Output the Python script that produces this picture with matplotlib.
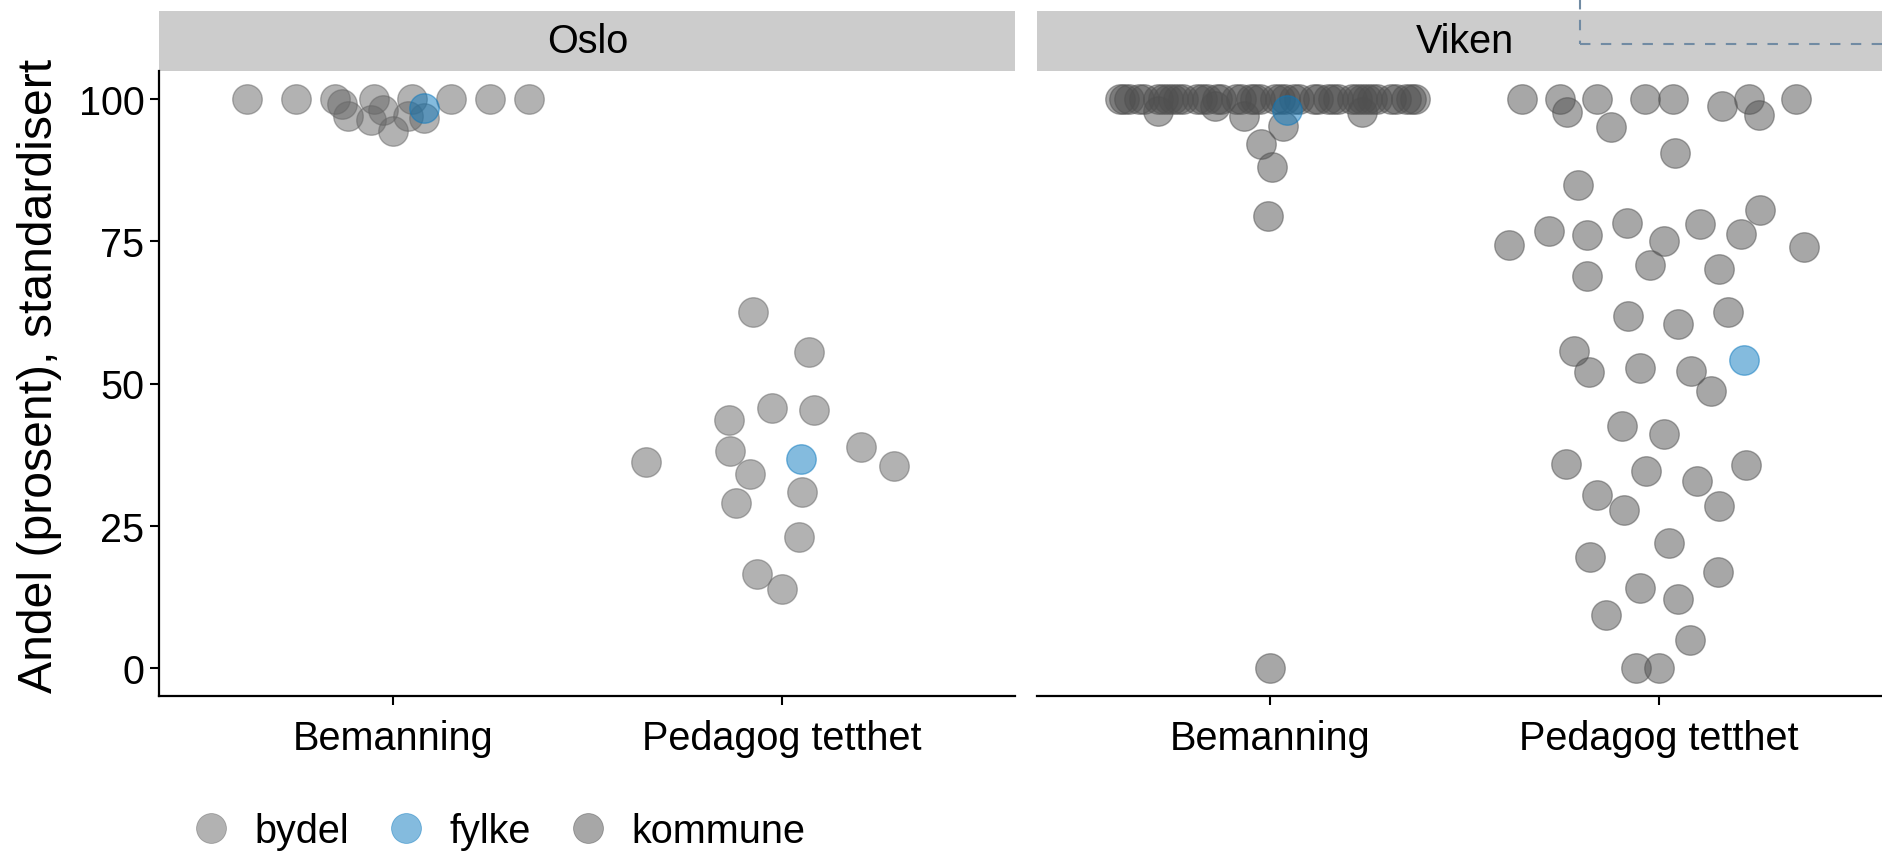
import numpy as np
import matplotlib
matplotlib.use('Agg')
import matplotlib.pyplot as plt
from matplotlib.lines import Line2D
from matplotlib.patches import Rectangle

plt.rcParams['font.family'] = ['Liberation Sans', 'DejaVu Sans']

# Data
panels = ['Oslo', 'Viken']
categories = ['Bemanning', 'Pedagog tetthet']
types = ['bydel', 'fylke', 'kommune']

oslo_bemanning_bydel = [100, 100, 100, 100, 100, 100, 100, 100,
                        99.2, 97.1, 96.4, 98.2, 94.4, 97.1, 96.8]
oslo_bemanning_fylke = [98.5]
oslo_pedagog_bydel = [62.6, 55.5, 45.7, 45.4, 43.5, 36.1, 38.1, 34.1,
                      38.8, 35.4, 29.0, 30.9, 22.9, 16.4, 13.9]
oslo_pedagog_fylke = [36.8]

viken_bemanning_kommune = [100, 100, 100, 100, 100, 100, 100, 100, 100, 100,
                           100, 100, 100, 100, 100, 100, 100, 100, 100, 100,
                           100, 100, 100, 100, 100, 100, 100, 100, 100, 100,
                           100, 100, 100, 100, 100, 100, 100, 100, 100, 100,
                           100, 100,
                           97.7, 97.0, 95.3, 92.1, 88.1, 79.5, 97.9, 98.8, 0]
viken_bemanning_fylke = [98.2]
viken_pedagog_kommune = [100, 100, 97.7, 100, 95.1, 100, 100, 98.8, 100, 97.2,
                         100, 90.6, 84.9, 80.5, 74.4, 76.8, 76.1, 78.3, 75.1,
                         78.1, 76.4, 74.0, 68.9, 70.8, 70.2, 61.9, 60.4, 62.6,
                         55.7, 52.0, 52.8, 52.2, 48.7, 42.6, 41.1, 35.9, 34.6,
                         32.8, 35.7, 30.3, 27.8, 28.4, 21.9, 19.4, 16.8, 14.0,
                         12.0, 9.2, 4.9, 0, 0]
viken_pedagog_fylke = [54.1]

colors = {'bydel': '#666666', 'fylke': '#0a78be', 'kommune': '#505050'}

panel_data = {
    'Oslo': {'Bemanning': {'bydel': oslo_bemanning_bydel, 'fylke': oslo_bemanning_fylke},
             'Pedagog tetthet': {'bydel': oslo_pedagog_bydel, 'fylke': oslo_pedagog_fylke}},
    'Viken': {'Bemanning': {'kommune': viken_bemanning_kommune, 'fylke': viken_bemanning_fylke},
              'Pedagog tetthet': {'kommune': viken_pedagog_kommune, 'fylke': viken_pedagog_fylke}},
}


def van_der_corput(n, base=2):
    out = np.zeros(n)
    for i in range(n):
        k, denom, v = i + 1, 1.0, 0.0
        while k > 0:
            denom *= base
            k, r = divmod(k, base)
            v += r / denom
        out[i] = v
    return out


def quasirandom(y, width=0.4, adjust=0.5):
    # same idea as ggbeeswarm::geom_quasirandom
    y = np.asarray(y, float)
    n = len(y)
    sd = y.std(ddof=1)
    q75, q25 = np.percentile(y, [75, 25])
    lo = min(sd, (q75 - q25) / 1.34)
    if lo == 0:
        lo = sd or abs(y[0]) or 1
    bw = 0.9 * lo * n ** -0.2 * adjust
    grid = np.linspace(y.min() - 3 * bw, y.max() + 3 * bw, 512)
    dens = np.exp(-0.5 * ((grid[:, None] - y[None, :]) / bw) ** 2).sum(1)
    dens /= dens.max()
    d_at = np.interp(y, grid, dens)
    rank = np.argsort(np.argsort(y, kind='stable'), kind='stable')
    return (van_der_corput(n)[rank] - 0.5) * 2 * width * d_at


W, H = 1883, 853
fig = plt.figure(figsize=(W / 100, H / 100), dpi=100)

panel_left = [159.5, 1036.5]
panel_w = 856
panel_top, panel_bot = 72, 697
strip_h = 60
tick_fs = 28.5

for p, name in enumerate(panels):
    ax = fig.add_axes([panel_left[p] / W, (H - panel_bot) / H,
                       panel_w / W, (panel_bot - panel_top) / H])
    for c, cat in enumerate(categories):
        groups = panel_data[name][cat]
        vals, labs = [], []
        for t in groups:
            vals += list(groups[t])
            labs += [t] * len(groups[t])
        offs = quasirandom(vals)
        vals = np.array(vals)
        labs = np.array(labs)
        for t in groups:
            m = labs == t
            ax.scatter(c + 1 + offs[m], vals[m], s=450, color=colors[t],
                       alpha=0.5, linewidths=1, zorder=3, clip_on=False)

    ax.set_xlim(0.4, 2.6)
    ax.set_ylim(-5, 105)
    ax.set_xticks([1, 2])
    ax.set_xticklabels(categories, fontsize=tick_fs)
    ax.set_yticks([0, 25, 50, 75, 100])
    ax.tick_params(axis='x', length=6.5, width=1.5, pad=10, colors='black')
    ax.tick_params(axis='y', length=6.5, width=1.5, pad=4.3, labelsize=tick_fs)
    for s in ['top', 'right']:
        ax.spines[s].set_visible(False)
    ax.spines['bottom'].set_linewidth(1.6)
    ax.spines['left'].set_linewidth(1.6)
    if p > 0:
        ax.spines['left'].set_visible(False)
        ax.tick_params(axis='y', left=False, labelleft=False)

    # facet strip
    sh = strip_h / (panel_bot - panel_top)
    ax.add_patch(Rectangle((0, 1), 1, sh, transform=ax.transAxes,
                           facecolor='#cccccc', edgecolor='none', clip_on=False))
    ax.text(0.5, 1 + sh / 2, name, transform=ax.transAxes, ha='center',
            va='center', fontsize=tick_fs)

fig.text(40 / W, 1 - 376 / H, 'Andel (prosent), standardisert', rotation=90,
         ha='center', va='center', fontsize=34.7)

handles = [Line2D([], [], marker='o', linestyle='none', markersize=21.5,
                  markerfacecolor=colors[t], markeredgecolor=colors[t],
                  markeredgewidth=0.6, alpha=0.5, label=t) for t in types]
fig.legend(handles=handles, loc='center left', ncol=3, frameon=False,
           bbox_to_anchor=(191.6 / W, 1 - 832 / H), borderaxespad=0,
           borderpad=0, handlelength=1.0, handletextpad=0.6,
           columnspacing=0.93, fontsize=tick_fs)

# dashed annotation box cut off at the top right
dash = dict(color='#718ba3', linewidth=1.5, linestyle=(0, (5, 5)))
fig.add_artist(Line2D([1580 / W, 1580 / W], [1, 1 - 45 / H], **dash))
fig.add_artist(Line2D([1580 / W, 1], [1 - 45 / H, 1 - 45 / H], **dash))

fig.savefig('out.png', dpi=100)
